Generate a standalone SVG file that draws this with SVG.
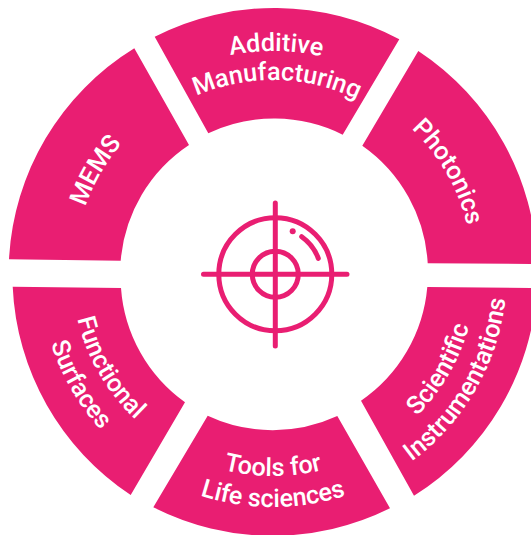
<svg xmlns="http://www.w3.org/2000/svg" width="531" height="535" viewBox="0 0 531 535">
<style>
.seg{fill:#e91e72}
.t{font-family:Roboto,"Liberation Sans",sans-serif;font-weight:500;font-size:25.2px;fill:#fff;text-anchor:middle}
.ic{fill:none;stroke:#e91e72;stroke-width:5;stroke-linecap:round}
</style>
<defs>
<path id="p1" d="M102.9,130.3A222,222 0 0 1 443.1,130.3"/>
<path id="p2" d="M125.2,148.9A193,193 0 0 1 420.8,148.9"/>
<path id="p3" d="M307.7,76A200,200 0 0 1 460.9,341.4"/>
<path id="p4" d="M308.2,472.9A203,203 0 0 0 463.8,203.6"/>
<path id="p5" d="M313.6,503.4A234,234 0 0 0 492.9,193"/>
<path id="p6" d="M117.5,403.5A203,203 0 0 0 428.5,403.5"/>
<path id="p7" d="M93.7,423.4A234,234 0 0 0 452.3,423.4"/>
<path id="p8" d="M84.1,204.3A201,201 0 0 0 238.1,470.9"/>
<path id="p9" d="M54.1,193.3A233,233 0 0 0 232.5,502.5"/>
<path id="p10" d="M86,341.1A199,199 0 0 1 238.5,77"/>
</defs>
<rect width="531" height="535" fill="#fff"/>
<g id="additive-manufacturing">
<path class="seg" d="M154.7,36.7A264,264 0 0 1 399.3,39.3L342.7,134.7A154,154 0 0 0 208.3,133.3Z"/>
<text class="t"><textPath href="#p1" startOffset="50.8%">Additive</textPath></text>
<text class="t"><textPath href="#p2" startOffset="51.2%">Manufacturing</textPath></text>
</g>
<g id="photonics">
<path class="seg" d="M418.3,51A264,264 0 0 1 537,264L427.7,263.3A154,154 0 0 0 362.3,145.7Z"/>
<text class="t"><textPath href="#p3" startOffset="50%">Photonics</textPath></text>
</g>
<g id="scientific-instrumentations">
<path class="seg" d="M427.3,287L537,288A264,264 0 0 1 414,495.7L361,400.7A154,154 0 0 0 427.3,287Z"/>
<text class="t"><textPath href="#p4" startOffset="50%">Scientific</textPath></text>
<text class="t"><textPath href="#p5" startOffset="50%">Instrumentations</textPath></text>
</g>
<g id="tools-for-life-sciences">
<path class="seg" d="M207.7,415.7A154,154 0 0 0 337.3,416L390,508.3A264,264 0 0 1 153.3,507.3Z"/>
<text class="t"><textPath href="#p6" startOffset="50%">Tools for</textPath></text>
<text class="t"><textPath href="#p7" startOffset="50%">Life sciences</textPath></text>
</g>
<g id="functional-surfaces">
<path class="seg" d="M12.7,286.7L121,288A154,154 0 0 0 185,402.3L130.7,495A264,264 0 0 1 12.7,286.7Z"/>
<text class="t"><textPath href="#p8" startOffset="50%">Functional</textPath></text>
<text class="t"><textPath href="#p9" startOffset="50%">Surfaces</textPath></text>
</g>
<g id="mems">
<path class="seg" d="M134.3,48.3L189,145A154,154 0 0 0 120.7,260.7L9,259.3A264,264 0 0 1 134.3,48.3Z"/>
<text class="t"><textPath href="#p10" startOffset="50%">MEMS</textPath></text>
</g>
<g id="target-icon" class="ic">
<circle cx="275.3" cy="274.3" r="56.5"/>
<circle cx="275.3" cy="274.3" r="23"/>
<path d="M203.5,274.3H347M275.3,203V346"/>
<path d="M301.7,236.7A46,46 0 0 1 318.3,258.3"/>
<circle cx="292.7" cy="231.3" r="3" fill="#e91e72" stroke="none"/>
</g>
</svg>
